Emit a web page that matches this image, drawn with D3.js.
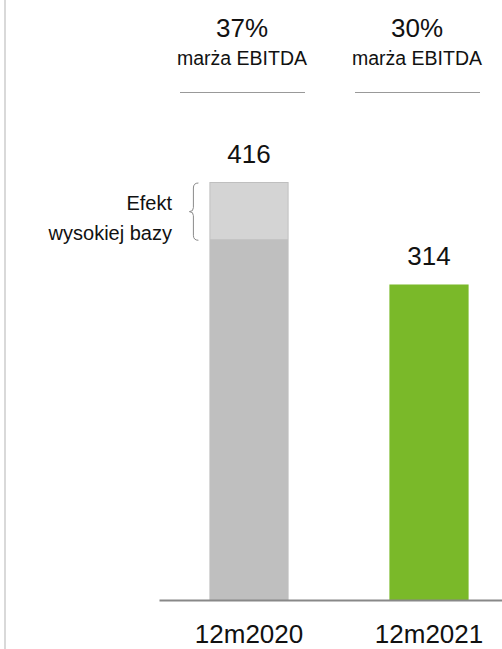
<!DOCTYPE html>
<html>
<head>
<meta charset="utf-8">
<script src="https://cdn.jsdelivr.net/npm/d3@7"></script>
<style>
  body { margin: 0; background: #fff; }
  text { font-family: "Liberation Sans", Arial, sans-serif; fill: #111; }
</style>
</head>
<body>
<script>
// data
const categories = ["12m2020", "12m2021"];
const values = [416, 314];
const baseValue = 359; // top of the dark part of the 2020 bar
const margins = ["37%", "30%"];
const marginLabel = "marża EBITDA";
const effectLabel = ["Efekt", "wysokiej bazy"];

const width = 502;
const height = 649;
const baseline = 600;

const svg = d3.select("body").append("svg")
    .attr("width", width)
    .attr("height", height);

const xScale = d3.scaleBand()
    .domain(categories)
    .range([159, 519])
    .paddingInner(0.56)
    .paddingOuter(0.28);

const yScale = d3.scaleLinear()
    .domain([0, 416])
    .range([baseline, 182]);

const colors = ["#bfbfbf", "#7ab929"];

// left border line
svg.append("line")
    .attr("x1", 5).attr("x2", 5)
    .attr("y1", 0).attr("y2", height)
    .attr("stroke", "#cccccc")
    .attr("stroke-width", 1.5);

// bars
svg.selectAll("rect.bar")
    .data(values)
    .join("rect")
    .attr("class", "bar")
    .attr("x", (d, i) => xScale(categories[i]))
    .attr("y", d => yScale(d))
    .attr("width", xScale.bandwidth())
    .attr("height", d => baseline - yScale(d))
    .attr("fill", (d, i) => colors[i]);

// high base effect part
svg.append("rect")
    .attr("x", xScale(categories[0]) + 1)
    .attr("y", yScale(values[0]) + 1)
    .attr("width", xScale.bandwidth() - 2)
    .attr("height", yScale(baseValue) - yScale(values[0]) - 1)
    .attr("fill", "#d4d4d4");

// brace
const bx = xScale(categories[0]) - 16;
const by0 = yScale(values[0]) + 1;
const by1 = yScale(baseValue) + 1;
const bm = (by0 + by1) / 2;
svg.append("path")
    .attr("d", `M${bx + 5},${by0} Q${bx},${by0} ${bx},${by0 + 5} L${bx},${bm - 4} Q${bx},${bm} ${bx - 4},${bm} Q${bx},${bm} ${bx},${bm + 4} L${bx},${by1 - 5} Q${bx},${by1} ${bx + 5},${by1}`)
    .attr("fill", "none")
    .attr("stroke", "#8a8a8a")
    .attr("stroke-width", 1);

svg.append("text")
    .attr("text-anchor", "end")
    .style("font-size", "20px")
    .selectAll("tspan")
    .data(effectLabel)
    .join("tspan")
    .attr("x", 172)
    .attr("y", (d, i) => 210 + i * 30)
    .text(d => d);

// value labels
svg.selectAll("text.value")
    .data(values)
    .join("text")
    .attr("class", "value")
    .attr("x", (d, i) => xScale(categories[i]) + xScale.bandwidth() / 2)
    .attr("y", d => yScale(d) - 19)
    .attr("text-anchor", "middle")
    .style("font-size", "26px")
    .text(d => d);

// axis
const xAxis = d3.axisBottom(xScale).tickSize(0).tickPadding(0);
const axisG = svg.append("g")
    .attr("transform", `translate(0,${baseline})`)
    .call(xAxis);
axisG.attr("font-family", null).attr("font-size", null);
axisG.select(".domain").attr("stroke", "#888").attr("stroke-width", 2);
axisG.selectAll("text")
    .attr("dy", null)
    .attr("y", 43)
    .style("font-size", "26px")
    .attr("fill", "#111");

// margin headers
const headerX = [242, 417];
margins.forEach((m, i) => {
    svg.append("text")
        .attr("x", headerX[i]).attr("y", 37)
        .attr("text-anchor", "middle")
        .style("font-size", "26px")
        .text(m);
    svg.append("text")
        .attr("x", headerX[i]).attr("y", 65)
        .attr("text-anchor", "middle")
        .style("font-size", "19.5px")
        .text(marginLabel);
    svg.append("line")
        .attr("x1", headerX[i] - 62).attr("x2", headerX[i] + 63)
        .attr("y1", 92.5).attr("y2", 92.5)
        .attr("stroke", "#999")
        .attr("stroke-width", 1);
});
</script>
</body>
</html>
